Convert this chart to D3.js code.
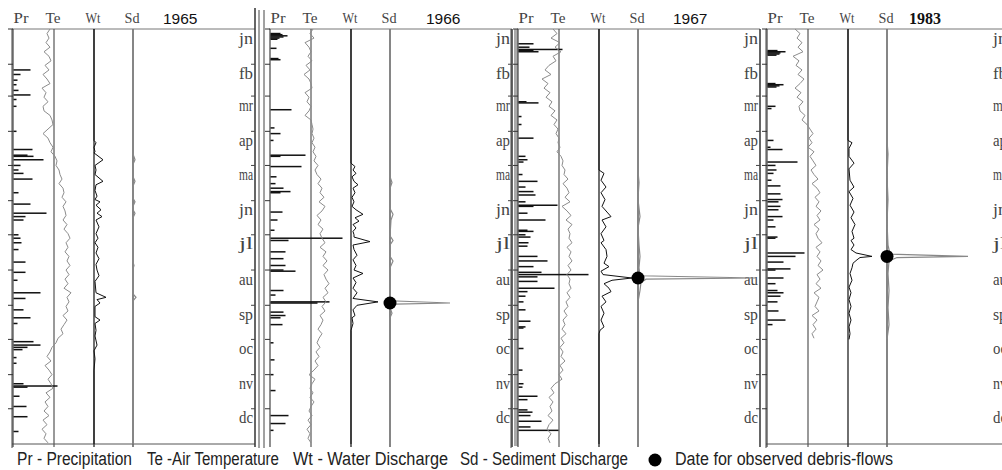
<!DOCTYPE html>
<html>
<head>
<meta charset="utf-8">
<script src="https://cdn.jsdelivr.net/npm/d3@7"></script>
<style>
  body { margin: 0; background: #fff; }
  svg { display: block; }
</style>
</head>
<body>
<div id="chart"></div>
<script>
// ---- data ----
const years = [1965, 1966, 1967, 1983];
const columns = ["Pr", "Te", "Wt", "Sd"];
const monthLabels = ["jn", "fb", "mr", "ap", "ma", "jn", "jl", "au", "sp", "oc", "nv", "dc"];

// precipitation: [day of year, mm]
const pr1965 = [[36,17],[40,7],[45,4],[49,3],[54,5],[58,17],[62,3],[68,3],[90,3],[106,19],[111,14],[112,20],[115,30],[120,7],[124,5],[127,10],[132,19],[144,5],[154,17],[162,33],[165,12],[168,10],[181,5],[184,7],[188,8],[194,5],[205,12],[214,12],[221,4],[232,27],[237,12],[247,10],[254,17],[259,4],[275,20],[278,27],[280,14],[282,9],[289,3],[294,3],[312,10],[314,44],[315,14],[323,6],[332,13],[341,14],[354,5]];
const pr1966 = [[4,10],[5,12],[6,17],[7,13],[8,9],[9,7],[17,6],[26,8],[27,10],[71,21],[87,4],[92,10],[98,3],[111,35],[112,10],[121,31],[130,6],[136,5],[140,13],[143,20],[144,10],[161,12],[168,7],[177,4],[184,72],[186,18],[196,15],[202,13],[208,15],[212,13],[213,25],[230,13],[234,5],[240,59],[241,47],[249,13],[252,15],[254,10],[260,12],[276,3],[291,4],[304,3],[318,5],[340,18],[347,15],[353,3]];
const pr1967 = [[13,15],[16,11],[18,44],[19,15],[20,20],[64,8],[65,20],[77,3],[84,3],[96,15],[112,7],[115,9],[117,5],[128,4],[134,19],[139,7],[143,15],[146,17],[152,7],[155,39],[156,15],[162,9],[168,27],[177,9],[178,15],[181,7],[183,12],[188,10],[191,9],[200,19],[204,29],[209,15],[214,23],[216,70],[218,19],[222,19],[228,36],[231,9],[235,7],[240,5],[247,7],[257,12],[262,7],[263,5],[281,5],[300,4],[312,5],[315,4],[323,19],[326,9],[335,9],[337,14],[340,12],[345,23],[350,12],[353,40]];
const pr1983 = [[19,10],[20,18],[21,13],[22,12],[23,9],[48,8],[49,16],[50,12],[51,9],[68,8],[70,4],[98,6],[104,3],[106,15],[117,30],[120,8],[124,9],[127,6],[133,4],[138,13],[145,13],[150,15],[152,11],[156,13],[159,11],[165,15],[168,6],[174,8],[183,10],[184,8],[197,37],[200,28],[205,16],[211,23],[212,8],[219,16],[224,8],[230,10],[232,16],[235,13],[240,10],[248,11],[256,18],[260,5]];

// air temperature, one reading every 4 days (deg C)
const teStep = 4;
const te1965 = [-4,-7,-5,-8,-4,-10,-5,-3,-9,-5,-11,-7,-4,-12,-8,-10,-6,-11,-10,-4,-2,-1,-6,-11,-6,-4,-1,-3,1,3,2,5,6,8,5,9,10,8,12,9,11,12,9,13,10,14,16,12,14,11,15,13,16,12,15,11,14,10,17,13,15,12,14,9,13,10,7,9,4,2,-2,-4,-7,-3,-9,-5,-2,-6,-3,-1,-8,-4,-9,-6,-10,-5,-11,-7,-12,-8,-10,-6];
const te1966 = [2,-1,3,-6,-2,0,-3,1,-5,-1,-7,-2,0,1,-6,-2,-4,0,-2,-6,0,1,2,1,3,1,4,2,5,3,7,4,6,10,7,11,9,13,8,14,11,6,10,7,12,9,11,14,9,15,12,16,12,17,13,15,18,14,17,12,15,11,14,9,12,10,7,11,8,6,9,5,8,4,7,3,-2,4,1,-1,2,-1,3,0,-2,1,-3,0,-4,-1,-3,0];
const te1967 = [-6,-2,-8,1,-4,2,-6,-3,-10,-14,-8,-17,-11,-15,-9,-13,-7,-10,-4,-8,-2,-5,-1,-3,0,-1,1,-2,2,4,3,6,5,9,4,8,10,6,11,3,8,12,7,13,9,11,10,13,8,12,10,13,9,12,8,11,10,12,8,11,7,9,5,8,4,6,3,7,2,5,1,4,2,6,1,4,0,3,-4,-8,-5,-10,-6,-9,-7,-11,-6,-10,-12,-8,-11,-9];
const te1983 = [-13,-8,-11,-6,-10,-5,-15,-9,-12,-6,-10,-4,-8,-13,-7,-11,-5,-9,-8,-3,-6,-1,2,5,1,4,0,6,2,5,8,3,6,10,4,9,12,7,11,8,13,9,12,6,11,8,10,14,8,12,9,13,10,15,9,12,8,13,6,11,9,7,11,4,9,5,8,4,6];

// water discharge: [day of year, value]
const wt1965 = [[0,0],[98,0],[100,2],[104,0],[108,1],[109,0],[115,9],[120,1],[124,2],[128,1],[134,9],[137,2],[142,1],[147,3],[150,1],[152,6],[155,2],[159,7],[162,3],[165,8],[168,2],[174,5],[180,2],[184,4],[188,1],[192,4],[197,2],[202,5],[207,2],[212,3],[217,5],[222,1],[232,2],[236,12],[238,3],[241,6],[244,1],[253,1],[256,6],[259,1],[265,2],[270,1],[278,3],[283,0],[290,1],[300,0],[365,0]];
const wt1966 = [[0,0],[118,0],[121,4],[124,2],[127,5],[130,1],[134,3],[137,7],[140,2],[144,4],[148,1],[152,3],[156,1],[159,5],[163,12],[166,4],[169,8],[172,2],[175,5],[178,2],[181,3],[183,3],[187,19],[190,2],[194,3],[199,6],[203,2],[208,5],[212,3],[215,12],[219,2],[223,5],[228,2],[232,6],[237,2],[240,27],[243,6],[247,2],[252,4],[254,1],[259,2],[265,0],[365,0]];
const wt1967 = [[0,0],[124,0],[127,5],[133,2],[139,7],[144,2],[150,6],[156,3],[161,8],[165,12],[168,3],[174,7],[180,2],[186,5],[188,2],[194,7],[200,8],[206,5],[209,10],[213,2],[216,4],[219,33],[221,13],[224,5],[228,10],[231,12],[235,3],[240,7],[244,2],[250,5],[256,2],[262,5],[265,1],[268,0],[365,0]];
const wt1983 = [[0,0],[98,0],[100,4],[105,1],[112,1],[118,6],[123,1],[133,2],[139,6],[143,1],[149,5],[155,2],[161,6],[166,3],[172,7],[178,4],[184,6],[186,3],[190,6],[194,3],[197,8],[200,24],[201,12],[203,9],[206,5],[210,4],[215,2],[221,4],[227,1],[232,3],[238,1],[244,3],[250,1],[256,3],[262,1],[268,2],[273,1]];

// sediment discharge: [day of year, value]
const sd1965 = [[0,0],[110,0],[115,2],[119,0],[130,0],[134,2],[138,0],[149,0],[152,2],[156,0],[159,0],[162,2],[166,0],[205,0],[208,1],[211,0],[233,0],[236,3],[239,0],[365,0]];
const sd1966 = [[0,0],[130,0],[135,2],[140,0],[158,0],[163,3],[168,1],[182,0],[186,3],[190,0],[200,0],[204,3],[210,0],[239,0],[241,60],[242,5],[245,0],[250,2],[254,0],[365,0]];
const sd1967 = [[0,0],[125,0],[135,1],[150,0],[165,2],[175,0],[190,1],[200,2],[210,1],[217,2],[219,118],[220,8],[223,3],[230,2],[240,0],[365,0]];
const sd1983 = [[0,0],[98,0],[110,1],[130,0],[150,1],[170,0],[190,1],[198,3],[200,81],[201,10],[204,2],[215,1],[230,2],[245,1],[260,2],[273,0]];

// observed debris flows
const debrisYears = [1966, 1967, 1983];
const debrisDays = [241, 219, 200];

const legendLabels = ["Pr - Precipitation", "Te -Air Temperature", "Wt - Water Discharge", "Sd - Sediment Discharge"];
const legendDotLabel = "Date for observed debris-flows";

// ---- layout ----
const width = 1002, height = 470;
const panelLeft = [13, 270, 518, 767];      // x of the Pr axis in each panel
const colOffset = [0, 41, 81, 120];         // Pr, Te, Wt, Sd axes
const panelWidth = 242;
const yearOffset = [150, 156, 155, 142];
const leftRules = [[-1], [-6, -11], [-7], [-1]];
const hasBottom = [true, false, false, true];

const prData = [pr1965, pr1966, pr1967, pr1983];
const teData = [te1965, te1966, te1967, te1983];
const wtData = [wt1965, wt1966, wt1967, wt1983];
const sdData = [sd1965, sd1966, sd1967, sd1983];

const svg = d3.select("#chart").append("svg")
    .attr("width", width)
    .attr("height", height)
    .style("background", "#fff");

// day of year -> vertical position
const y = d3.scaleLinear().domain([0, 365]).range([29, 444]);
// data units -> horizontal offset from each column axis
const unit = d3.scaleLinear().domain([0, 100]).range([0, 100]);

years.forEach((yr, i) => {
    const g = svg.append("g");
    const x0 = panelLeft[i];
    const ax = colOffset.map(o => x0 + o);
    const right = x0 + panelWidth;
    const yTop = y(0), yBot = y(365);
    const monthStarts = d3.timeMonths(new Date(yr, 0, 1), new Date(yr + 1, 0, 1))
        .map(d => d3.timeDay.count(new Date(yr, 0, 1), d));

    // frame
    g.append("line").attr("x1", x0 - 1).attr("x2", Math.min(right, width)).attr("y1", yTop).attr("y2", yTop)
        .attr("stroke", "#777").attr("stroke-width", 1);
    if (hasBottom[i]) {
        g.append("line").attr("x1", x0 - 1).attr("x2", Math.min(right, width)).attr("y1", yBot).attr("y2", yBot)
            .attr("stroke", "#555").attr("stroke-width", 1);
    }
    leftRules[i].forEach(o => {
        g.append("line").attr("x1", x0 + o).attr("x2", x0 + o)
            .attr("y1", i === 1 ? 10 : yTop).attr("y2", yBot + 4)
            .attr("stroke", "#444").attr("stroke-width", 1);
    });
    if (i === 2) {
        g.append("line").attr("x1", x0 - 2).attr("x2", x0 - 2).attr("y1", yTop).attr("y2", yBot + 2)
            .attr("stroke", "#aaa").attr("stroke-width", 4);
    }
    if (right < width) {
        g.append("line").attr("x1", right).attr("x2", right).attr("y1", i === 0 ? 8 : yTop).attr("y2", yBot + 3)
            .attr("stroke", "#333").attr("stroke-width", 1.5);
        g.selectAll(".rtick").data(monthStarts.slice(1)).join("line")
            .attr("x1", right - 4).attr("x2", right)
            .attr("y1", d => y(d)).attr("y2", d => y(d))
            .attr("stroke", "#444");
    }

    // column axes
    g.append("line").attr("x1", ax[0]).attr("x2", ax[0]).attr("y1", yTop).attr("y2", yBot + 3)
        .attr("stroke", "#444").attr("stroke-width", 1.2);
    g.append("line").attr("x1", ax[1]).attr("x2", ax[1]).attr("y1", yTop).attr("y2", yBot + 3)
        .attr("stroke", "#555").attr("stroke-width", 1.2);
    g.append("line").attr("x1", ax[2]).attr("x2", ax[2]).attr("y1", yTop).attr("y2", yBot + 3)
        .attr("stroke", "#333").attr("stroke-width", 1.4);
    g.append("line").attr("x1", ax[3]).attr("x2", ax[3]).attr("y1", yTop).attr("y2", yBot + 3)
        .attr("stroke", "#666").attr("stroke-width", 1.6);

    // month ticks on the Pr axis
    g.selectAll(".ltick").data(monthStarts).join("line")
        .attr("x1", ax[0] - 5).attr("x2", ax[0])
        .attr("y1", d => y(d)).attr("y2", d => y(d))
        .attr("stroke", "#333");

    // month labels
    g.selectAll(".mlab").data(monthStarts).join("text")
        .attr("x", right - 2)
        .attr("y", d => y(d) + 14.5)
        .attr("text-anchor", "end")
        .attr("font-family", "'Liberation Serif', 'Times New Roman', serif")
        .attr("font-size", 17)
        .attr("textLength", 14)
        .attr("lengthAdjust", "spacingAndGlyphs")
        .attr("fill", "#444")
        .text((d, k) => monthLabels[k]);

    // column headers
    g.selectAll(".hdr").data(columns).join("text")
        .attr("x", (d, k) => k === 0 ? ax[0] + 8 : ax[k] - 1)
        .attr("y", 23)
        .attr("text-anchor", "middle")
        .attr("font-family", "'Liberation Serif', 'Times New Roman', serif")
        .attr("font-size", 15)
        .attr("textLength", 15)
        .attr("lengthAdjust", "spacingAndGlyphs")
        .attr("fill", "#444")
        .text(d => d);

    g.append("text")
        .attr("x", x0 + yearOffset[i])
        .attr("y", 23.5)
        .attr("font-family", i === 3 ? "'Liberation Serif', 'Times New Roman', serif" : "'Liberation Sans', Arial, sans-serif")
        .attr("font-weight", i === 3 ? "bold" : "normal")
        .attr("font-size", i === 3 ? 16 : 15.5)
        .attr("fill", "#111")
        .text(yr);

    // precipitation bars
    g.selectAll(".pr").data(prData[i]).join("rect")
        .attr("x", ax[0] + 0.5)
        .attr("y", d => y(d[0]) - 0.75)
        .attr("width", d => unit(d[1]))
        .attr("height", 1.5)
        .attr("fill", "#111");

    // air temperature
    const teLine = d3.line()
        .x(d => ax[1] + unit(d))
        .y((d, k) => y(k * teStep));
    g.append("path").datum(teData[i])
        .attr("d", teLine)
        .attr("fill", "none")
        .attr("stroke", "#8c8c8c")
        .attr("stroke-width", 1);

    // water discharge
    const wtLine = d3.line()
        .x(d => ax[2] + unit(d[1]))
        .y(d => y(d[0]));
    g.append("path").datum(wtData[i])
        .attr("d", wtLine)
        .attr("fill", "none")
        .attr("stroke", "#111")
        .attr("stroke-width", 1);

    // sediment discharge
    const sdLine = d3.line()
        .x(d => ax[3] + unit(d[1]))
        .y(d => y(d[0]));
    g.append("path").datum(sdData[i])
        .attr("d", sdLine)
        .attr("fill", "none")
        .attr("stroke", "#888")
        .attr("stroke-width", 1.2);

    // debris-flow date
    const k = debrisYears.indexOf(yr);
    if (k >= 0) {
        g.append("circle")
            .attr("cx", ax[3])
            .attr("cy", y(debrisDays[k]))
            .attr("r", 6.5)
            .attr("fill", "#000");
    }
});

// ---- legend ----
const legendX = [17, 147, 293, 460];
const legendW = [115, 132, 155, 168];
const legend = svg.append("g")
    .attr("font-family", "'Liberation Sans', Arial, sans-serif")
    .attr("font-size", 18)
    .attr("fill", "#222");
legend.selectAll("text").data(legendLabels).join("text")
    .attr("x", (d, k) => legendX[k])
    .attr("y", 465)
    .attr("textLength", (d, k) => legendW[k])
    .attr("lengthAdjust", "spacingAndGlyphs")
    .text(d => d);
legend.append("circle").attr("cx", 655).attr("cy", 460).attr("r", 6.5).attr("fill", "#000");
legend.append("text")
    .attr("x", 675).attr("y", 465)
    .attr("textLength", 218)
    .attr("lengthAdjust", "spacingAndGlyphs")
    .text(legendDotLabel);
</script>
</body>
</html>
